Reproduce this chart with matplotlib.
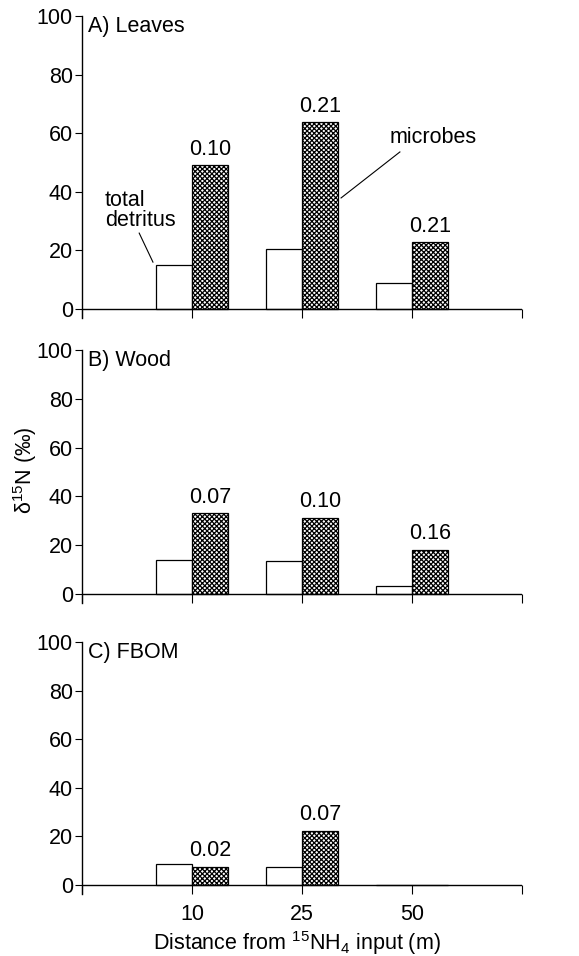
import matplotlib
matplotlib.use("Agg")
import matplotlib.pyplot as plt
import numpy as np

plt.rcParams['font.family'] = ['Liberation Sans', 'DejaVu Sans']
plt.rcParams['mathtext.fontset'] = 'custom'
plt.rcParams['mathtext.rm'] = 'Liberation Sans'
plt.rcParams['mathtext.it'] = 'Liberation Sans:italic'
plt.rcParams['hatch.linewidth'] = 0.9

distances = ["10", "25", "50"]
panels = ["A) Leaves", "B) Wood", "C) FBOM"]
detritus = [[15.0, 20.6, 9.0], [14.1, 13.4, 3.1], [8.8, 7.5, 0.0]]
microbes = [[49.0, 63.7, 22.8], [33.1, 31.3, 18.2], [7.4, 22.2, 0.0]]
ratio_labels = [["0.10", "0.21", "0.21"], ["0.07", "0.10", "0.16"], ["0.02", "0.07", None]]
yticks = [0, 20, 40, 60, 80, 100]

W, H = 579, 956
fig = plt.figure(figsize=(W / 100, H / 100), dpi=100)

# axes pixel geometry: (top px, zero-line px, bottom px)
geom = [(16, 309, 318), (350, 594, 603), (642, 885, 894)]
left_px, right_px = 82, 522
fs = 15.5
bw = 0.33
xpos = np.arange(1, 4)

for i in range(3):
    top, zero, bot = geom[i]
    ax = fig.add_axes([left_px / W, 1 - bot / H, (right_px - left_px) / W, (bot - top) / H])
    ppu = (zero - top) / 100.0
    ylo = -(bot - zero) / ppu
    ax.set_xlim(0, 4)
    ax.set_ylim(ylo, 100)
    ax.bar(xpos - bw / 2, detritus[i], width=bw, facecolor='white', edgecolor='black', linewidth=0.9, zorder=2)
    ax.bar(xpos + bw / 2, microbes[i], width=bw, facecolor='white', edgecolor='black',
           hatch='xxxxxxx', linewidth=0.9, zorder=2)
    ax.axhline(0, color='black', linewidth=1.0, zorder=3)
    for j, lab in enumerate(ratio_labels[i]):
        if lab is None:
            continue
        ax.annotate(lab, (xpos[j] + bw / 2, microbes[i][j]), xytext=(0, 4), textcoords='offset points',
                    ha='center', va='bottom', fontsize=fs)
    ax.text(0.05, 100, panels[i], ha='left', va='top', fontsize=fs)
    for s in ['top', 'right']:
        ax.spines[s].set_visible(False)
    ax.spines['bottom'].set_visible(False)
    ax.spines['left'].set_linewidth(1.0)
    ax.set_yticks(yticks)
    ax.set_yticklabels([str(t) for t in yticks], fontsize=fs)
    ax.tick_params(axis='y', direction='out', length=5, width=0.8, pad=1.5)
    ax.set_xticks([0, 1, 2, 3, 4])
    if i == 2:
        ax.set_xticklabels([''] + distances + [''], fontsize=fs)
    else:
        ax.set_xticklabels([''] * 5)
    ax.tick_params(axis='x', direction='in', length=6.5, width=0.8, pad=7)
    ax.patch.set_visible(False)

    if i == 0:
        ax.text(0.21, 33.5, "total\ndetritus", ha='left', va='center', fontsize=fs, linespacing=0.95)
        ax.plot([0.52, 0.645], [25.9, 16.0], color='black', linewidth=0.8)
        ax.text(2.8, 58.7, "microbes", ha='left', va='center', fontsize=fs)
        ax.plot([2.89, 2.355], [53.6, 37.9], color='black', linewidth=0.8)

fig.text(25 / W, 1 - 470 / H, "δ$^{15}$N (‰)", rotation=90, ha='center', va='center', fontsize=fs)
fig.text(297 / W, 1 - 943 / H, r"Distance from $^{15}$NH$_4$ input (m)", ha='center', va='center', fontsize=fs)

fig.savefig("out.png", dpi=100)
